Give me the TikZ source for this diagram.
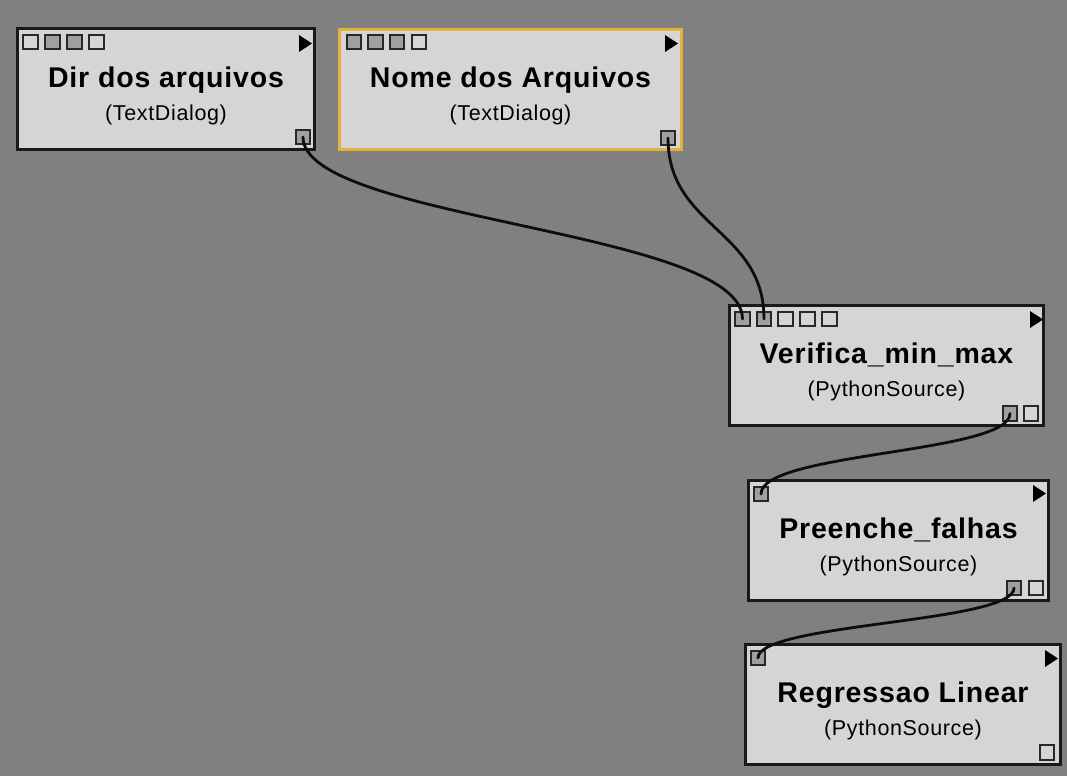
\documentclass[tikz,border=0pt]{standalone}
\usepackage{fontspec}
\setmainfont{Liberation Sans}
\newfontfamily\labelfont[LetterSpace=3]{Liberation Sans}
\usepackage{tikz}

\definecolor{canvas}{RGB}{128,128,128}
\definecolor{modfill}{RGB}{213,213,213}
\definecolor{portgray}{RGB}{160,160,160}
\definecolor{portline}{RGB}{40,40,40}
\definecolor{selgold}{RGB}{226,178,58}

\begin{document}
\begin{tikzpicture}[
    x=1pt, y=-1pt,
    module/.style={draw=black!90, fill=modfill, line width=3pt, inner sep=0pt, minimum height=120pt},
    port/.style={draw=portline, fill=modfill, line width=1.8pt, minimum size=14.5pt, inner sep=0pt},
    portfull/.style={port, fill=portgray},
    title/.style={anchor=base, inner sep=0pt, font=\labelfont\fontsize{28.5}{30}\selectfont\bfseries},
    subtitle/.style={anchor=base, inner sep=0pt, font=\labelfont\fontsize{21.5}{24}\selectfont},
    play/.style={fill=black},
    wire/.style={line width=2.8pt, black!95, line cap=round}
  ]
    % Canvas
    \fill[canvas] (0,0) rectangle (1067,776);

    % Modules
    \node[module, minimum width=297pt] (dir) at (166,89) {};
    \node[module, draw=selgold, minimum width=342pt] (nome) at (510.5,89.5) {};
    \node[module, minimum width=314pt] (ver) at (886.5,365.5) {};
    \node[module, minimum width=300pt] (pre) at (898.5,540) {};
    \node[module, minimum width=315pt] (reg) at (903,704.5) {};

    % Dir dos arquivos: ports and labels
    \node[port] (dirIn1) at (30.5,42) {};
    \node[portfull] (dirIn2) at (52.5,42) {};
    \node[portfull] (dirIn3) at (74.5,42) {};
    \node[port] (dirIn4) at (96.5,42) {};
    \node[portfull] (dirOut) at (303,137) {};
    \fill[play] (299,35) -- (312,43.5) -- (299,52) -- cycle;
    \node[title] (dirName) at (166,87) {Dir dos arquivos};
    \node[subtitle] (dirType) at (166,120) {(TextDialog)};

    % Nome dos Arquivos: ports and labels
    \node[portfull] (nomeIn1) at (354,42) {};
    \node[portfull] (nomeIn2) at (375.5,42) {};
    \node[portfull] (nomeIn3) at (397,42) {};
    \node[port] (nomeIn4) at (419,42) {};
    \node[portfull] (nomeOut) at (668,138) {};
    \fill[play] (665,35) -- (678,43.5) -- (665,52) -- cycle;
    \node[title] (nomeName) at (510.5,87) {Nome dos Arquivos};
    \node[subtitle] (nomeType) at (510.5,120) {(TextDialog)};

    % Verifica_min_max: ports and labels
    \node[portfull] (verIn1) at (742.5,319) {};
    \node[portfull] (verIn2) at (764,319) {};
    \node[port] (verIn3) at (785.5,319) {};
    \node[port] (verIn4) at (807.5,319) {};
    \node[port] (verIn5) at (829.5,319) {};
    \node[portfull] (verOut1) at (1010,413.5) {};
    \node[port] (verOut2) at (1031,413.5) {};
    \fill[play] (1030,311) -- (1043,319.5) -- (1030,328) -- cycle;
    \node[title] (verName) at (886.5,363) {Verifica\_min\_max};
    \node[subtitle] (verType) at (886.5,396) {(PythonSource)};

    % Preenche_falhas: ports and labels
    \node[portfull] (preIn) at (761,494) {};
    \node[portfull] (preOut1) at (1014,588) {};
    \node[port] (preOut2) at (1036,588) {};
    \fill[play] (1033,485) -- (1046,493.5) -- (1033,502) -- cycle;
    \node[title] (preName) at (898.5,538) {Preenche\_falhas};
    \node[subtitle] (preType) at (898.5,571) {(PythonSource)};

    % Regressao Linear: ports and labels
    \node[portfull] (regIn) at (758,658) {};
    \node[port] (regOut) at (1047,752.5) {};
    \fill[play] (1045,650) -- (1058,658.5) -- (1045,667) -- cycle;
    \node[title] (regName) at (903,702) {Regressao Linear};
    \node[subtitle] (regType) at (903,735) {(PythonSource)};

    % Connections
    \draw[wire] (dirOut.center) .. controls +(0,83) and +(0,-89) .. (verIn1.center);
    \draw[wire] (nomeOut.center) .. controls +(0,90) and +(0,-90) .. (verIn2.center);
    \draw[wire] (verOut1.center) .. controls +(0,40) and +(0,-42) .. (preIn.center);
    \draw[wire] (preOut1.center) .. controls +(0,35) and +(0,-35) .. (regIn.center);
  \end{tikzpicture}
\end{document}
